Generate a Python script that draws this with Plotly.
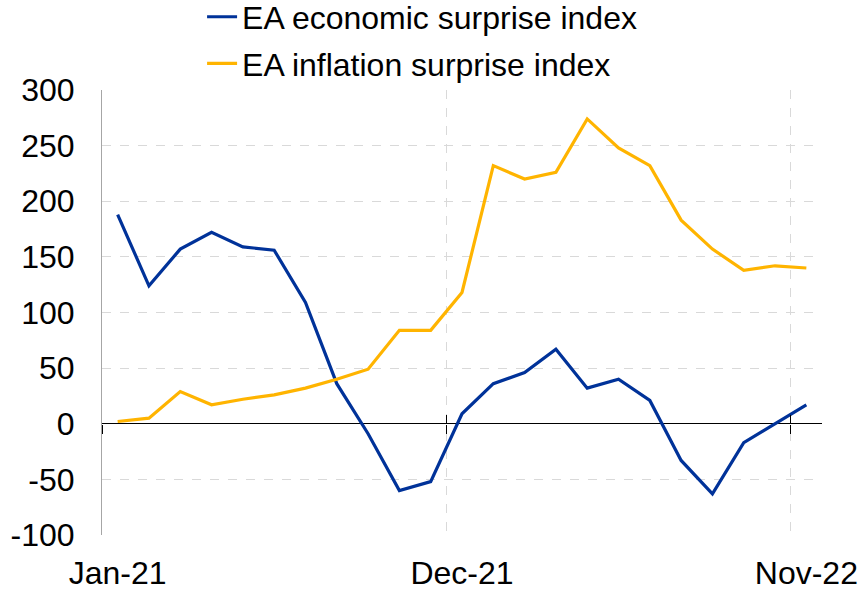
import plotly.graph_objects as go

months = ["Jan-21", "Feb-21", "Mar-21", "Apr-21", "May-21", "Jun-21", "Jul-21", "Aug-21",
          "Sep-21", "Oct-21", "Nov-21", "Dec-21", "Jan-22", "Feb-22", "Mar-22", "Apr-22",
          "May-22", "Jun-22", "Jul-22", "Aug-22", "Sep-22", "Oct-22", "Nov-22"]
economic = [188, 124, 157, 172, 159, 156, 109, 36, -9, -60, -52, 9, 36, 46, 67, 32,
            40, 21, -33, -63, -17, 0, 17]
inflation = [2, 5, 29, 17, 22, 26, 32, 40, 49, 84, 84, 118, 232, 220, 226, 274,
             248, 232, 183, 157, 138, 142, 140]
tick_labels = ["Jan-21", "Dec-21", "Nov-22"]
y_ticks = [-100, -50, 0, 50, 100, 150, 200, 250, 300]
y_tick_text = ["-100", "-50", "0", "50", "100", "150", "200", "250", "300"]

x = list(range(len(months)))
label_pos = [months.index(t) for t in tick_labels]
boundaries = [p - 0.5 for p in label_pos]
inner_bounds = boundaries[1:]

BLUE = "#003299"
YELLOW = "#FFB400"
FONT = "Liberation Sans, Arial, sans-serif"

fig = go.Figure()
fig.add_trace(go.Scatter(x=x, y=economic, mode="lines", name="EA economic surprise index",
                         legendgroup="a", line=dict(color=BLUE, width=3.2)))
fig.add_trace(go.Scatter(x=x, y=inflation, mode="lines", name="EA inflation surprise index",
                         legendgroup="b", line=dict(color=YELLOW, width=3.2)))
# invisible helper traces so the crossing tick-mark axes get drawn
for ax in ("x2", "x3"):
    fig.add_trace(go.Scatter(x=x, y=economic, xaxis=ax, mode="lines", opacity=0,
                             showlegend=False, hoverinfo="skip",
                             line=dict(color="rgba(0,0,0,0)", width=0)))

fig.update_layout(
    width=859, height=590,
    margin=dict(l=102, r=37, t=90, b=55, autoexpand=False),
    paper_bgcolor="white", plot_bgcolor="white",
    font=dict(family=FONT, size=32, color="black"),
    showlegend=True,
    legend=dict(x=0.139, y=1.226, xanchor="left", yanchor="top",
                traceorder="grouped", tracegroupgap=2,
                font=dict(size=32), bgcolor="rgba(0,0,0,0)"),
    xaxis=dict(
        range=[-0.5, len(months) - 0.5], automargin=False,
        tickmode="array", tickvals=label_pos, ticktext=tick_labels,
        ticks="outside", ticklen=10, tickcolor="rgba(0,0,0,0)",
        showgrid=False, zeroline=False, showline=False,
        minor=dict(tickmode="array", tickvals=inner_bounds, showgrid=True,
                   gridcolor="#d9d9d9", griddash="dash", gridwidth=1, ticks=""),
    ),
    xaxis2=dict(
        overlaying="x", anchor="free", position=0.25, automargin=False,
        range=[-0.5, len(months) - 0.5],
        tickmode="array", tickvals=boundaries, ticks="outside", ticklen=9,
        tickcolor="black", tickwidth=1.3, showticklabels=False,
        showgrid=False, zeroline=False, showline=False,
    ),
    xaxis3=dict(
        overlaying="x", anchor="free", position=0.25, automargin=False,
        range=[-0.5, len(months) - 0.5],
        tickmode="array", tickvals=boundaries, ticks="inside", ticklen=9,
        tickcolor="black", tickwidth=1.3, showticklabels=False,
        showgrid=False, zeroline=False, showline=False,
    ),
    yaxis=dict(
        range=[-100, 300], automargin=False,
        tickmode="array", tickvals=y_ticks, ticktext=y_tick_text,
        ticks="outside", ticklen=20, tickcolor="rgba(0,0,0,0)",
        showgrid=True, gridcolor="#d9d9d9", griddash="dash", gridwidth=1,
        zeroline=True, zerolinecolor="black", zerolinewidth=1.3,
        showline=True, linecolor="#a6a6a6", linewidth=1,
    ),
)

fig.write_html("out.html",
               config={"displayModeBar": False},
               post_script="document.body.style.margin='0';"
                           "document.body.style.overflow='hidden';")
